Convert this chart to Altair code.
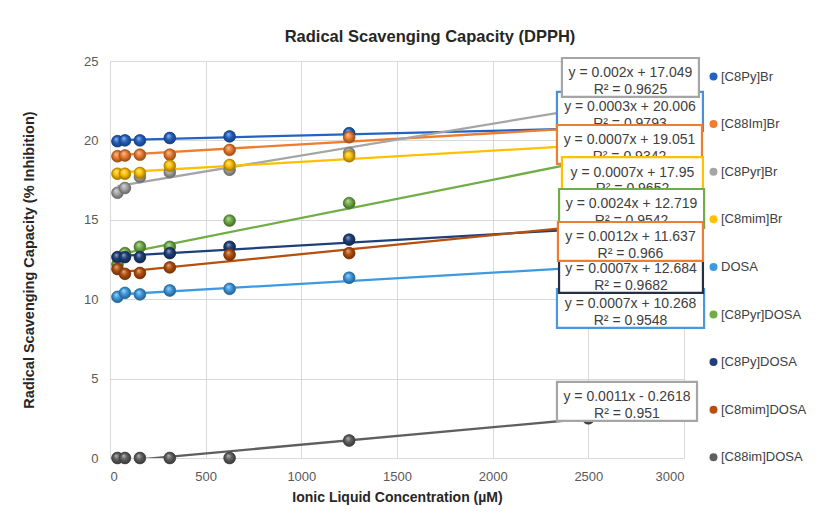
import altair as alt
import pandas as pd

# ---------------- data ----------------
concentrations = [39.0625, 78.125, 156.25, 312.5, 625, 1250, 2500]
series_names = ["[C8Py]Br", "[C88Im]Br", "[C8Pyr]Br", "[C8mim]Br", "DOSA",
                "[C8Pyr]DOSA", "[C8Py]DOSA", "[C8mim]DOSA", "[C88im]DOSA"]
v_c8py_br = [19.95, 20.0, 20.0, 20.15, 20.25, 20.45, 20.75]
v_c88im_br = [19.0, 19.05, 19.1, 19.1, 19.4, 20.2, 20.8]
v_c8pyr_br = [16.7, 17.0, 17.7, 18.0, 18.15, 19.2, 22.0]
v_c8mim_br = [17.9, 17.9, 17.95, 18.4, 18.45, 19.0, 19.7]
v_dosa = [10.15, 10.4, 10.3, 10.55, 10.65, 11.35, 12.0]
v_c8pyr_dosa = [12.2, 12.9, 13.3, 13.3, 14.95, 16.05, 18.7]
v_c8py_dosa = [12.65, 12.65, 12.65, 12.9, 13.3, 13.75, 14.5]
v_c8mim_dosa = [11.9, 11.6, 11.65, 12.0, 12.8, 12.9, 14.6]
v_c88im_dosa = [0.0, 0.0, 0.0, 0.0, 0.0, 1.1, 2.5]
series_values = [v_c8py_br, v_c88im_br, v_c8pyr_br, v_c8mim_br, v_dosa,
                 v_c8pyr_dosa, v_c8py_dosa, v_c8mim_dosa, v_c88im_dosa]

slopes = [0.0003, 0.0007, 0.002, 0.0007, 0.0007, 0.0024, 0.0007, 0.0012, 0.0011]
intercepts = [20.006, 19.051, 17.049, 17.95, 10.268, 12.719, 12.684, 11.637, -0.2618]
equation_labels = ["y = 0.0003x + 20.006", "y = 0.0007x + 19.051", "y = 0.002x + 17.049",
                   "y = 0.0007x + 17.95", "y = 0.0007x + 10.268", "y = 0.0024x + 12.719",
                   "y = 0.0007x + 12.684", "y = 0.0012x + 11.637", "y = 0.0011x - 0.2618"]
r2_labels = ["R² = 0.9793", "R² = 0.9342", "R² = 0.9625", "R² = 0.9652", "R² = 0.9548",
             "R² = 0.9542", "R² = 0.9682", "R² = 0.966", "R² = 0.951"]

# trendline label boxes, in data units (left, right, top)
label_left = [2336, 2336, 2362, 2362, 2336, 2347, 2347, 2341, 2336]
label_right = [3099, 3094, 3078, 3099, 3105, 3105, 3099, 3099, 3068]
label_top = [23.05, 20.97, 25.19, 18.95, 10.64, 16.94, 12.85, 14.86, 4.79]
label_height = 2.45

# ---------------- styles ----------------
series_colors = ["#2463c2", "#ed7d31", "#a5a5a5", "#ffc000", "#3e9ae0",
                 "#70ad47", "#1f3f7a", "#b5500f", "#5f5f5f"]
box_colors = ["#4a8fd8", "#ed7d31", "#a5a5a5", "#ffc000", "#4a97dd",
              "#70ad47", "#262f45", "#ed7d31", "#a5a5a5"]
FONT = "Liberation Sans"


def mix(c, other, t):
    c = c.lstrip("#"); o = other.lstrip("#")
    a = [int(c[i:i + 2], 16) for i in (0, 2, 4)]
    b = [int(o[i:i + 2], 16) for i in (0, 2, 4)]
    return "#" + "".join("%02x" % round(a[k] * (1 - t) + b[k] * t) for k in range(3))


def sphere(c):
    return {"gradient": "radial", "x1": 0.38, "y1": 0.3, "r1": 0.0,
            "x2": 0.5, "y2": 0.5, "r2": 0.55,
            "stops": [{"offset": 0.0, "color": mix(c, "#ffffff", 0.55)},
                      {"offset": 0.45, "color": c},
                      {"offset": 1.0, "color": mix(c, "#000000", 0.45)}]}


rows = []
for name, vals in zip(series_names, series_values):
    for x, y in zip(concentrations, vals):
        rows.append({"series": name, "conc": x, "value": y})
points = pd.DataFrame(rows)

trend_rows = []
for name, m, b in zip(series_names, slopes, intercepts):
    for x in (min(concentrations), max(concentrations)):
        trend_rows.append({"series": name, "conc": x, "value": m * x + b})
trend = pd.DataFrame(trend_rows)

labels = pd.DataFrame({
    "series": series_names,
    "x0": label_left, "x1": label_right,
    "y0": label_top, "y1": [t - label_height for t in label_top],
    "xc": [(a + b) / 2 for a, b in zip(label_left, label_right)],
    "yc": [t - label_height / 2 for t in label_top],
    "text": [e + "\n" + r for e, r in zip(equation_labels, r2_labels)],
})

x_scale = alt.Scale(domain=[0, 3000], nice=False)
y_scale = alt.Scale(domain=[0, 25], nice=False)

x_axis = alt.Axis(values=[0, 500, 1000, 1500, 2000, 2500, 3000], format="d",
                  title="Ionic Liquid Concentration (µM)",
                  grid=True, gridColor="#d9d9d9", domain=False, ticks=False, labelPadding=12,
                  labelFontSize=13, labelColor="#595959", titleFontSize=14, titleFontWeight="bold",
                  titleColor="#262626", titlePadding=7, labelFont=FONT, titleFont=FONT)
y_axis = alt.Axis(values=[0, 5, 10, 15, 20, 25], title="Radical Scavenging Capacity (% Inhibition)",
                  grid=True, gridColor="#d9d9d9", domain=False, ticks=False, labelPadding=12,
                  labelFontSize=13, labelColor="#595959", titleFontSize=14.5, titleFontWeight="bold",
                  titleColor="#262626", titlePadding=47, labelFont=FONT, titleFont=FONT)

base_pts = alt.Chart(points).mark_circle(size=140, opacity=1).encode(
    x=alt.X("conc:Q", scale=x_scale, axis=x_axis),
    y=alt.Y("value:Q", scale=y_scale, axis=y_axis),
    color=alt.Color("series:N", scale=alt.Scale(domain=series_names, range=series_colors),
                    sort=series_names,
                    legend=alt.Legend(title=None, orient="none", legendX=597, legendY=9,
                                      symbolSize=64, symbolType="circle", labelFontSize=13,
                                      labelColor="#404040", labelFont=FONT, rowPadding=33.6,
                                      labelOffset=1, padding=0)),
)

layers = []
for name, c in zip(series_names, series_colors):
    layers.append(
        alt.Chart(trend).transform_filter(alt.datum.series == name)
        .mark_line(strokeWidth=2.3, clip=True, color=c)
        .encode(x=alt.X("conc:Q", scale=x_scale), y=alt.Y("value:Q", scale=y_scale))
    )
layers.append(base_pts)
for name, c in zip(series_names, series_colors):
    layers.append(
        alt.Chart(points).transform_filter(alt.datum.series == name)
        .mark_circle(size=140, opacity=1, stroke=mix(c, "#000000", 0.3), strokeWidth=0.6)
        .encode(x=alt.X("conc:Q", scale=x_scale), y=alt.Y("value:Q", scale=y_scale),
                fill=alt.value(sphere(c)))
    )

for name, bc in zip(series_names, box_colors):
    layers.append(
        alt.Chart(labels).transform_filter(alt.datum.series == name)
        .mark_rect(fill="white", stroke=bc, strokeWidth=2.2, clip=False)
        .encode(x=alt.X("x0:Q", scale=x_scale), x2="x1:Q",
                y=alt.Y("y0:Q", scale=y_scale), y2="y1:Q")
    )
    layers.append(
        alt.Chart(labels).transform_filter(alt.datum.series == name)
        .mark_text(font=FONT, fontSize=14, color="#404040", lineBreak="\n", lineHeight=16.5,
                   align="center", baseline="middle", dy=-4)
        .encode(x=alt.X("xc:Q", scale=x_scale), y=alt.Y("yc:Q", scale=y_scale), text="text:N")
    )

chart = alt.layer(*layers).properties(
    width=574, height=397,
    title=alt.Title("Radical Scavenging Capacity (DPPH)", font=FONT, fontSize=16.5, fontWeight="bold",
                    color="#262626", anchor="middle", dx=33, offset=10),
    autosize=alt.AutoSizeParams(type="none"),
    padding={"left": 102, "top": 53, "right": 133, "bottom": 48},
).configure_view(stroke=None).configure(font=FONT)

chart.save("out.html", embed_options={"renderer": "svg", "actions": False})
